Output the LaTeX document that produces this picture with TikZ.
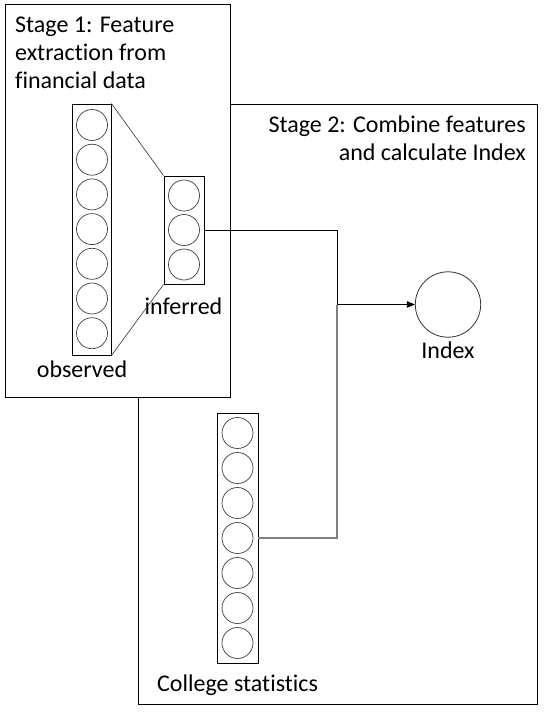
\documentclass[tikz,border=0pt]{standalone}
\usepackage{fontspec}
\setmainfont{Carlito}[RawFeature=-liga]
\usetikzlibrary{arrows.meta}
\begin{document}
\begin{tikzpicture}[x=1pt,y=-1pt,
  stagebox/.style={draw=black,line width=0.9pt,fill=white,inner sep=0pt,anchor=north west},
  layerbox/.style={draw=black,line width=0.9pt,inner sep=0pt},
  neuron/.style={circle,draw=black!75,line width=0.7pt,minimum size=31pt,inner sep=0pt},
  lbl/.style={font=\fontsize{24}{28}\selectfont,inner sep=0pt},
  conn/.style={line width=0.9pt},
  grayconn/.style={line width=1.2pt,draw=black!50},
  thin/.style={line width=0.6pt,draw=black!80},
]
\useasboundingbox (0,0) rectangle (547,713);
\fill[white] (0,0) rectangle (547,713);
% stage boxes
\node[stagebox,minimum width=399pt,minimum height=600pt] (s2) at (138,104) {};
\node[stagebox,minimum width=225pt,minimum height=393pt] (s1) at (5,4) {};
\node[lbl,anchor=north west,align=left] (t1) at (15,16.5) {Stage 1: Feature\\extraction from\\financial data};
\node[lbl,anchor=north east,align=right] (t2) at (526,115.5) {Stage 2: Combine features\\and calculate Index};
% observed layer
\node[layerbox,minimum width=39pt,minimum height=251pt] (obs) at (91.5,229.5) {};
\foreach \i in {0,...,6} \node[neuron] (o\i) at (92,{125+34.7*\i}) {};
\node[lbl,anchor=base] (tobs) at (82,377) {observed};
% inferred layer
\node[layerbox,minimum width=40pt,minimum height=108pt] (inf) at (184,230) {};
\foreach \i in {0,...,2} \node[neuron] (n\i) at (184,{195.5+34.5*\i}) {};
\node[lbl,anchor=base] (tinf) at (183.5,314) {inferred};
\draw[thin] (obs.north east) -- (inf.north west);
\draw[thin] (obs.south east) -- (inf.south west);
% college layer
\node[layerbox,minimum width=41pt,minimum height=250pt] (col) at (237.5,538) {};
\foreach \i in {0,...,6} \node[neuron] (c\i) at (237.5,{433+35*\i}) {};
\node[lbl,anchor=base west] (tcol) at (157,691) {College statistics};
% index
\node[circle,draw=black!80,line width=0.8pt,minimum size=65.4pt,inner sep=0pt] (idx) at (448,304.5) {};
\node[lbl,anchor=base] (tidx) at (448,358) {Index};
% connectors
\coordinate (j) at (337,304.5);
\draw[grayconn] (col.east) -| (j);
\draw[conn] (inf.east) -| (j);
\draw[conn,-{Triangle[length=8pt,width=6.5pt]}] (j) -- (idx.west);
\end{tikzpicture}
\end{document}
